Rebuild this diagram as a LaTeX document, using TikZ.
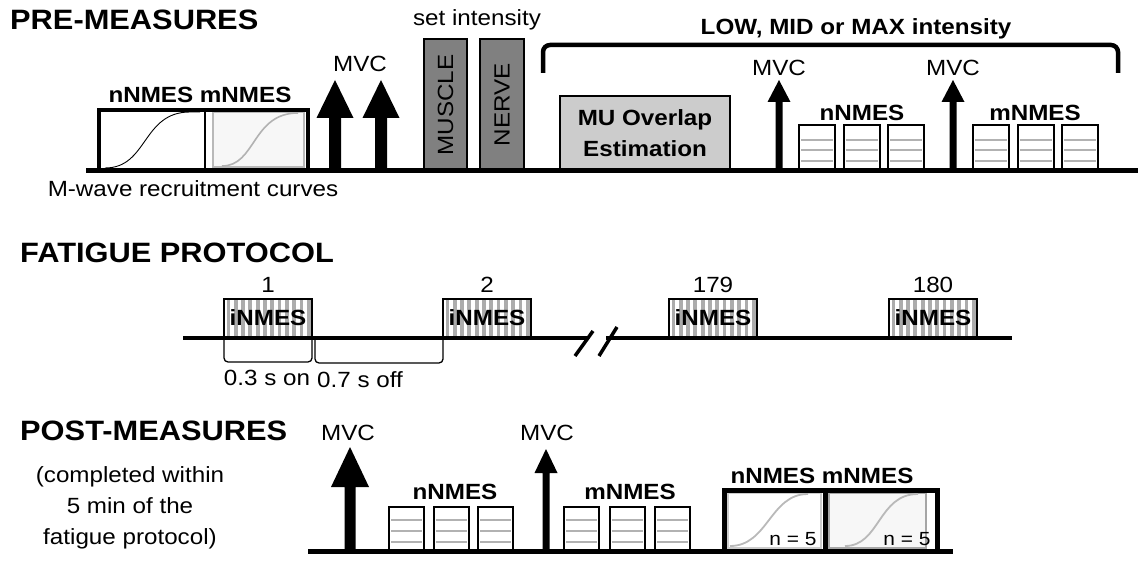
\documentclass[tikz,border=0pt]{standalone}
\usepackage{fontspec}
\setmainfont{Liberation Sans}[FakeStretch=1.1]
\usepackage{xcolor}
\usepackage{tikz}
\usetikzlibrary{positioning}

\begin{document}
\begin{tikzpicture}[x=1pt, y=-1pt,
    every node/.style={inner sep=0pt},
    lbl/.style={anchor=base, font=\fontsize{22}{30}\selectfont},
    blbl/.style={anchor=base, font=\bfseries\fontsize{22}{30}\selectfont},
    nlbl/.style={anchor=base, font=\fontsize{19}{22}\selectfont},
    ttl/.style={anchor=base west, font=\bfseries\fontsize{28}{32}\selectfont},
    timeline/.style={line width=5pt},
    stimbox/.style={draw, line width=2pt, fill=white},
    stimline/.style={gray!60, line width=1.2pt},
    setbox/.style={draw, line width=2pt, fill=gray, rotate=90,
                   minimum width=132, font=\fontsize{22}{30}\selectfont},
    curvebox/.style={line width=4pt}
  ]
  \useasboundingbox (0,0) rectangle (1138,588);

  \node[ttl] (pretitle) at (10,30) {PRE-MEASURES};

  \fill[gray!6] (213,112) rectangle (304,167);
  \draw[gray!55, line width=2pt] (213,112) rectangle (304,167);
  \draw[line width=0.9pt] (105,168) .. controls (148,168) and (142,112) .. (190,112) -- (200,112);
  \draw[gray!60, line width=1.6pt] (222,166) .. controls (256,166) and (252,113) .. (298,113);
  \draw[curvebox] (99,171) -- (99,110) -- (308,110) -- (308,171);
  \draw[line width=2pt] (205,110) -- (205,171);
  \node[blbl] (recpre) at (200,103) {nNMES mNMES};
  \node[lbl] (mwave) at (193,197) {M-wave recruitment curves};

  \foreach \x in {335,381}
    \fill (\x-6,171) -- (\x-6,118) -- (\x-18.5,118) -- (\x,80) -- (\x+18.5,118)
      -- (\x+6,118) -- (\x+6,171) -- cycle;
  \node[lbl] (mvca) at (360,72) {MVC};

  \node[setbox, minimum height=43] (muscle) at (445.5,105) {MUSCLE};
  \node[setbox, minimum height=44] (nerve) at (502,105) {NERVE};
  \node[lbl] (setint) at (477,26) {set intensity};

  \draw[line width=4.5pt, rounded corners=7pt] (543,73) -- (543,45) -- (1118,45) -- (1118,73);
  \node[blbl] (lowmax) at (856,35) {LOW, MID or MAX intensity};

  \node[draw, line width=2pt, fill=gray!40, minimum width=170, minimum height=74,
        align=center, font=\bfseries\fontsize{22}{31}\selectfont] (mubox) at (645,133)
        {MU Overlap\\Estimation};

  \foreach \x in {779,953}
    \fill (\x-3.5,171) -- (\x-3.5,102) -- (\x-11.5,102) -- (\x,80) -- (\x+11.5,102)
      -- (\x+3.5,102) -- (\x+3.5,171) -- cycle;
  \node[lbl] (mvcb) at (779,76) {MVC};
  \node[lbl] (mvcc) at (953,76) {MVC};

  \foreach \x in {799,843.5,888,973,1017.5,1062} {
    \draw[stimbox] (\x,125) rectangle ++(36,46);
    \foreach \y in {140,150,161}
      \draw[stimline] (\x+2,\y) -- (\x+34,\y);
  }
  \node[blbl] (nnmespre) at (862,121) {nNMES};
  \node[blbl] (mnmespre) at (1035,121) {mNMES};

  \draw[timeline] (86,171) -- (1138,171);

  \node[ttl] (fattitle) at (20,262) {FATIGUE PROTOCOL};
  \foreach \x/\n in {224/1, 443/2, 669/179, 889/180} {
    \foreach \i in {0,...,11}
      \fill[gray!65] (\x+2.5+\i*7.3,300) rectangle ++(3.8,38);
    \draw[line width=2pt] (\x,338) -- (\x,299) -- (\x+88,299) -- (\x+88,338);
    \node[blbl] (inmes\n) at (\x+44,325) {iNMES};
    \node[lbl] (rep\n) at (\x+44,292) {\n};
  }
  \draw[line width=4pt] (183,338) -- (589,338);
  \draw[line width=4pt] (606,338) -- (1012,338);
  \draw[line width=3.5pt] (575,356) -- (593,331);
  \draw[line width=3.5pt] (599,356) -- (617,327);
  \draw[line width=1.3pt, rounded corners=4pt] (224,339) -- (224,362) -- (312,362) -- (312,339);
  \draw[line width=1.3pt, rounded corners=4pt] (315,339) -- (315,363) -- (443,363) -- (443,339);
  \node[lbl] (on) at (267,385) {0.3 s on};
  \node[lbl] (off) at (360,387) {0.7 s off};

  \node[ttl] (posttitle) at (20,440) {POST-MEASURES};
  \node[align=center, font=\fontsize{22}{31}\selectfont] (within) at (130,508)
    {(completed within\\5 min of the\\fatigue protocol)};

  \fill (344.5,551) -- (344.5,487) -- (331,487) -- (350,447) -- (369,487)
    -- (355.5,487) -- (355.5,551) -- cycle;
  \node[lbl] (mvcd) at (348,440) {MVC};
  \fill (542.5,551) -- (542.5,473) -- (534.5,473) -- (546,449) -- (557.5,473)
    -- (549.5,473) -- (549.5,551) -- cycle;
  \node[lbl] (mvce) at (547,440) {MVC};

  \foreach \x in {389,433.5,478,564,609.5,655} {
    \draw[stimbox] (\x,507) rectangle ++(35,44);
    \foreach \y in {520,531,542}
      \draw[stimline] (\x+2,\y) -- (\x+33,\y);
  }
  \node[blbl] (nnmespost) at (455,499) {nNMES};
  \node[blbl] (mnmespost) at (630,499) {mNMES};

  \draw[gray!40, line width=1.5pt] (728,493) rectangle (821,548);
  \fill[gray!6] (829,493) rectangle (926,548);
  \draw[gray!70, line width=2pt] (829,493) rectangle (926,548);
  \draw[gray!55, line width=1.8pt] (730,546) .. controls (768,546) and (770,494) .. (808,494);
  \draw[gray!55, line width=1.8pt] (845,546) .. controls (880,546) and (878,494) .. (918,494);
  \draw[line width=5pt] (724.5,551) -- (724.5,490) -- (937.5,490) -- (937.5,551);
  \draw[line width=5pt] (825,490) -- (825,551);
  \node[blbl] (recpost) at (822,483) {nNMES mNMES};
  \node[nlbl] (npost1) at (793,545) {n = 5};
  \node[nlbl] (npost2) at (907,545) {n = 5};

  \draw[timeline] (308,551) -- (953,551);
\end{tikzpicture}
\end{document}
